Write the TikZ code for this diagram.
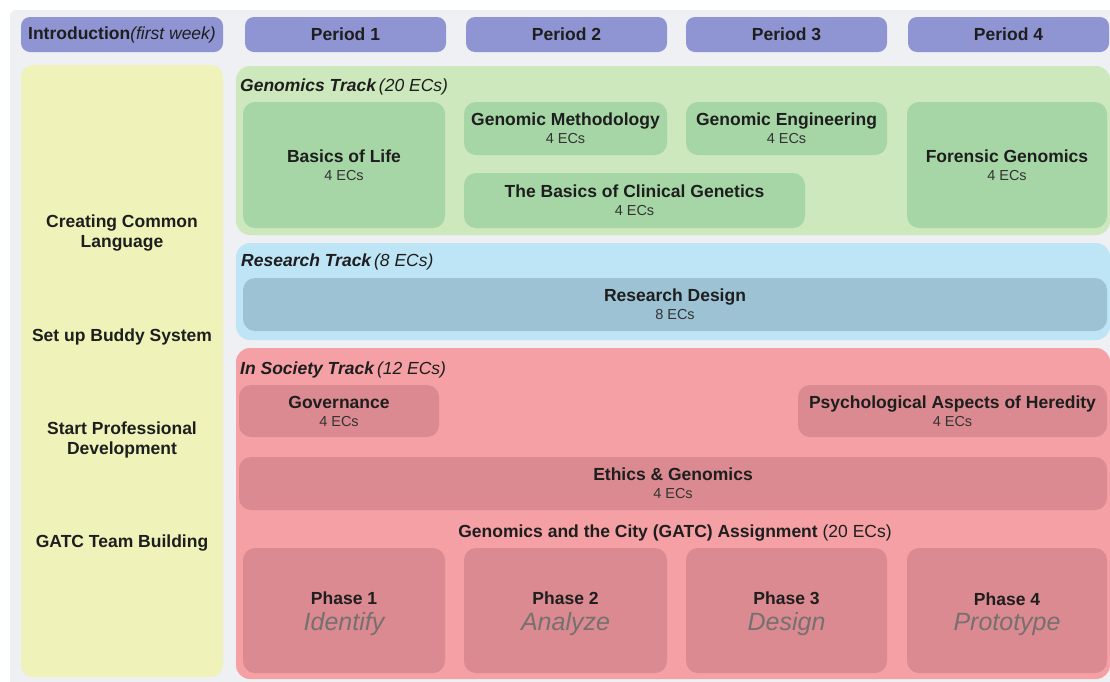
\documentclass[tikz,border=0pt]{standalone}
\usepackage{fontspec}
\setmainfont{Liberation Sans}
\definecolor{bgc}{HTML}{EEF0F3}
\definecolor{hdrc}{HTML}{8F94D2}
\definecolor{yelc}{HTML}{EFF2B9}
\definecolor{gtrk}{HTML}{CDE8BD}
\definecolor{gbx}{HTML}{A6D6A6}
\definecolor{btrk}{HTML}{BEE5F5}
\definecolor{bbx}{HTML}{9CC2D4}
\definecolor{rtrk}{HTML}{F4A0A5}
\definecolor{rbx}{HTML}{DA8A90}
\definecolor{txt}{HTML}{1E1E1E}
\definecolor{ecsc}{HTML}{333333}
\definecolor{phsc}{HTML}{767070}
\newcommand{\ttlfont}{\fontsize{17.5}{18}\selectfont\bfseries}
\newcommand{\ecsfont}{\fontsize{14.5}{18}\selectfont\mdseries\color{ecsc}}
\newcommand{\crs}[2]{#1\\{\ecsfont #2}}
\newcommand{\phs}[2]{#1\\[7pt]{\fontsize{25}{25}\selectfont\mdseries\itshape\color{phsc}#2}}
\tikzset{
  panel/.style={rounded corners=12pt, inner sep=0pt, outer sep=0pt, draw=none, align=center, text=txt, font=\ttlfont},
  hdrbox/.style={panel, fill=hdrc, rounded corners=9pt, minimum height=35pt, minimum width=201pt},
  trackbox/.style={panel, rounded corners=14pt},
  gcourse/.style={panel, fill=gbx},
  bcourse/.style={panel, fill=bbx},
  rcourse/.style={panel, fill=rbx},
  phasebox/.style={panel, fill=rbx, minimum width=201pt, minimum height=125pt, text height=46pt},
  tracklabel/.style={anchor=west, inner sep=0pt, text=txt, font=\fontsize{17.5}{18}\selectfont},
  introtext/.style={align=center, inner sep=0pt, text=txt, font=\fontsize{17.5}{20}\selectfont\bfseries}
}
\begin{document}
\begin{tikzpicture}[x=1pt,y=-1pt]
\useasboundingbox (0,0) rectangle (1110,681);
\fill[white] (0,0) rectangle (1110,681);
\fill[bgc, rounded corners=6pt] (10,10) rectangle (1120,695);

% header row
\node[hdrbox, minimum width=202pt] (intro) at (122,34.5) {Introduction{\mdseries\itshape (first week)}};
\node[hdrbox] (p1) at (345.5,34.5) {Period 1};
\node[hdrbox] (p2) at (566.5,34.5) {Period 2};
\node[hdrbox] (p3) at (786.5,34.5) {Period 3};
\node[hdrbox] (p4) at (1008.5,34.5) {Period 4};

% introduction column
\node[panel, fill=yelc, minimum width=202pt, minimum height=612pt] (introcol) at (122,371) {};
\node[introtext] (ccl) at (122,233.5) {Creating Common\\Language};
\node[introtext] (bud) at (122,336.5) {Set up Buddy System};
\node[introtext] (spd) at (122,439.5) {Start Professional\\Development};
\node[introtext] (gtb) at (122,543) {GATC Team Building};

% genomics track
\node[trackbox, fill=gtrk, minimum width=874pt, minimum height=169pt] (gtrack) at (673,150.5) {};
\node[tracklabel] (glab) at (240,86.5) {\bfseries\itshape Genomics Track\,{\mdseries(20 ECs)}};
\node[gcourse, minimum width=202pt, minimum height=126pt] (basics) at (344,165) {\crs{Basics of Life}{4 ECs}};
\node[gcourse, minimum width=203pt, minimum height=53pt] (meth) at (565.5,128.5) {\crs{Genomic Methodology}{4 ECs}};
\node[gcourse, minimum width=201pt, minimum height=53pt] (eng) at (786.5,128.5) {\crs{Genomic Engineering}{4 ECs}};
\node[gcourse, minimum width=341pt, minimum height=55pt] (clin) at (634.5,200.5) {\crs{The Basics of Clinical Genetics}{4 ECs}};
\node[gcourse, minimum width=200pt, minimum height=126pt] (foren) at (1007,165) {\crs{Forensic Genomics}{4 ECs}};

% research track
\node[trackbox, fill=btrk, minimum width=874pt, minimum height=97pt] (btrack) at (673,291.5) {};
\node[tracklabel] (blab) at (241,262) {\bfseries\itshape Research Track\,{\mdseries(8 ECs)}};
\node[bcourse, minimum width=864pt, minimum height=53pt] (resd) at (675,304.5) {\crs{Research Design}{8 ECs}};

% in society track
\node[trackbox, fill=rtrk, minimum width=874pt, minimum height=331pt] (rtrack) at (673,513.5) {};
\node[tracklabel] (rlab) at (240,369.5) {\bfseries\itshape In Society Track\,{\mdseries(12 ECs)}};
\node[rcourse, minimum width=200pt, minimum height=52pt] (gov) at (339,411) {\crs{Governance}{4 ECs}};
\node[rcourse, minimum width=309pt, minimum height=52pt] (psy) at (952.5,411) {\crs{Psychological Aspects of Heredity}{4 ECs}};
\node[rcourse, minimum width=868pt, minimum height=53pt] (eth) at (673,483.5) {\crs{Ethics \& Genomics}{4 ECs}};
\node[inner sep=0pt, text=txt, font=\fontsize{17.5}{18}\selectfont] (gatc) at (675,533.5) {\textbf{Genomics and the City (GATC) Assignment} (20 ECs)};
\node[phasebox, minimum width=202pt] (ph1) at (344,610.5) {\phs{Phase 1}{Identify}};
\node[phasebox, minimum width=203pt] (ph2) at (565.5,610.5) {\phs{Phase 2}{Analyze}};
\node[phasebox] (ph3) at (786.5,610.5) {\phs{Phase 3}{Design}};
\node[phasebox, minimum width=200pt] (ph4) at (1007,610.5) {\phs{Phase 4}{Prototype}};
\end{tikzpicture}
\end{document}
